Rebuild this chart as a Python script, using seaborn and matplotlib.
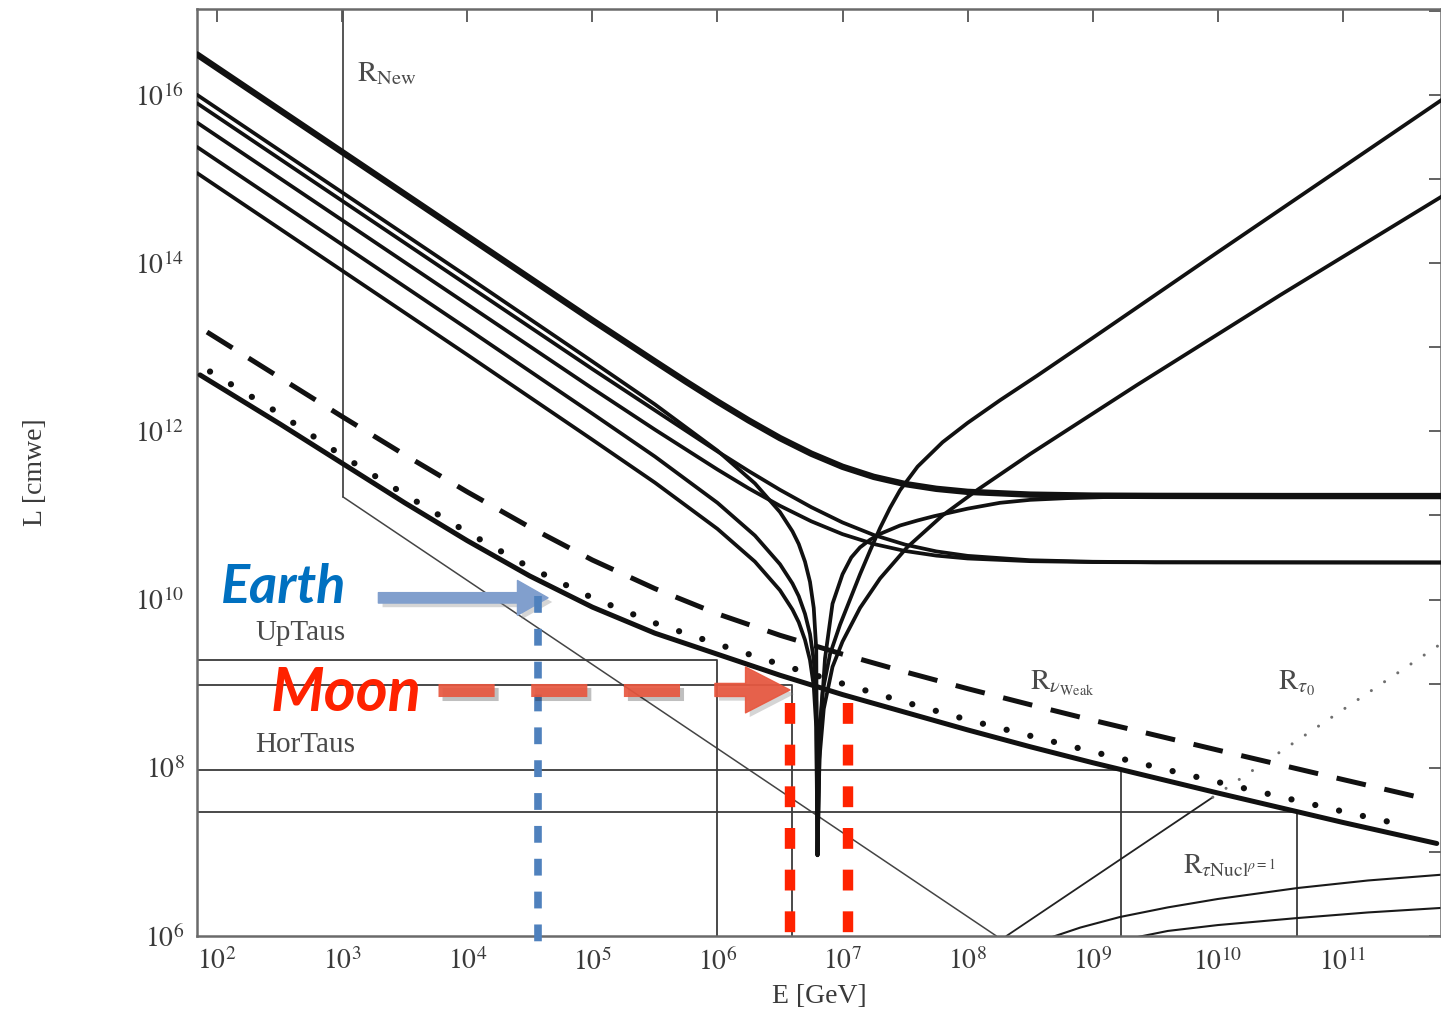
import numpy as np
import pandas as pd
import matplotlib
matplotlib.use("Agg")
import matplotlib.pyplot as plt
import matplotlib.patheffects as pe
from matplotlib.ticker import FixedLocator, FuncFormatter, NullLocator
import seaborn as sns

# ---------------- data: log10(E [GeV]) and log10(L [cmwe]) ----------------
XLIM_LOG = [1.84, 11.784]
YLIM_LOG = [6.0, 17.02]
X_TICK_EXP = [2, 3, 4, 5, 6, 7, 8, 9, 10, 11]
Y_TICK_EXP = [6, 7, 8, 9, 10, 11, 12, 13, 14, 15, 16, 17]

# thick top curve (flattens at ~1.7e11)
T1_LOGE = [1.84, 2.5, 3.0, 3.5, 4.0, 4.5, 5.0, 5.5, 5.75, 6.0, 6.25, 6.5, 6.75, 7.0, 7.25, 7.5,
           7.75, 8.0, 8.5, 9.0, 9.5, 10.5, 11.8]
T1_LOGL = [16.48, 15.82, 15.32, 14.82, 14.32, 13.82, 13.32, 12.831, 12.589, 12.354, 12.129, 11.919,
           11.734, 11.578, 11.458, 11.373, 11.316, 11.28, 11.247, 11.235, 11.232, 11.23, 11.23]

# curve dipping at ~6e6 GeV and rising steeply (upper rising branch)
V1_LOGE = [1.84, 3.0, 4.0, 5.0, 5.5, 6.0, 6.3, 6.5, 6.6, 6.65, 6.7, 6.74, 6.77, 6.79, 6.80,
           6.81, 6.84, 6.9, 6.98, 7.06, 7.14, 7.22, 7.3, 7.38, 7.46, 7.6, 7.8, 8.0, 8.26, 8.555, 9.0, 10.0, 11.8]
V1_LOGL = [16.00, 14.84, 13.84, 12.83, 12.32, 11.77, 11.38, 11.04, 10.81, 10.66, 10.45, 10.21, 9.90, 9.41, 6.96,
           8.3, 8.9, 9.35, 9.7, 10.0, 10.3, 10.58, 10.85, 11.09, 11.3, 11.58, 11.87, 12.1, 12.37, 12.66, 13.11, 14.13, 15.95]

# curve dipping at ~6e6 GeV then approaching the upper plateau from below
X_LOGE = [1.84, 3.0, 4.0, 5.0, 5.5, 6.0, 6.3, 6.5, 6.6, 6.65, 6.7, 6.74, 6.77, 6.79, 6.80,
          6.82, 6.86, 6.92, 7.0, 7.07, 7.14, 7.22, 7.3, 7.46, 7.6, 7.73, 8.0, 8.26, 8.5, 8.79, 9.1, 9.46, 11.8]
X_LOGL = [15.38, 14.22, 13.22, 12.21, 11.70, 11.15, 10.76, 10.42, 10.19, 10.04, 9.83, 9.59, 9.28, 8.79, 6.96,
          8.4, 9.3, 9.95, 10.3, 10.5, 10.62, 10.71, 10.78, 10.88, 10.94, 10.99, 11.08, 11.15, 11.185, 11.205,
          11.218, 11.225, 11.23]

# curve dipping at ~6e6 GeV and rising (lower rising branch)
Y_LOGE = [1.84, 3.0, 4.0, 5.0, 5.5, 6.0, 6.3, 6.5, 6.6, 6.65, 6.7, 6.74, 6.77, 6.79, 6.80,
          6.815, 6.85, 6.92, 7.0, 7.14, 7.3, 7.516, 7.8, 8.075, 8.5, 9.354, 10.5, 11.8]
Y_LOGL = [15.07, 13.91, 12.91, 11.90, 11.39, 10.84, 10.45, 10.11, 9.88, 9.73, 9.52, 9.28, 8.97, 8.48, 6.96,
          8.1, 8.7, 9.2, 9.5, 9.9, 10.25, 10.62, 11.0, 11.30, 11.73, 12.55, 13.62, 14.8]

# two curves flattening at ~2.75e10
P_LOGE = [1.84, 3.0, 4.0, 5.0, 5.5, 6.0, 6.25, 6.5, 6.75, 7.0, 7.25, 7.5, 7.75, 8.0, 8.5, 9.0, 9.5, 11.8]
P2_LOGL = [15.90, 14.74, 13.74, 12.74, 12.25, 11.761, 11.527, 11.304, 11.098, 10.916, 10.767, 10.653,
           10.572, 10.519, 10.467, 10.449, 10.443, 10.44]
P3_LOGL = [15.67, 14.51, 13.51, 12.51, 12.02, 11.546, 11.321, 11.114, 10.93, 10.777, 10.66, 10.577,
           10.522, 10.488, 10.456, 10.445, 10.442, 10.44]

# R_nuWeak (dashed)
WEAK_LOGE = [1.92, 2.5, 3.0, 3.5, 4.0, 4.5, 5.0, 5.5, 6.0, 6.5, 7.0, 7.5, 8.0, 8.5, 9.0, 10.0, 11.0, 11.65]
WEAK_LOGL = [13.18, 12.64, 12.175, 11.72, 11.28, 10.86, 10.47, 10.13, 9.83, 9.575, 9.35, 9.14, 8.94,
             8.75, 8.565, 8.21, 7.86, 7.635]

# dotted curve
DOT_LOGE = [1.944, 2.5, 3.0, 3.5, 4.0, 4.5, 5.0, 5.5, 6.0, 6.5, 7.0, 7.5, 8.0, 8.5, 9.0, 10.0, 11.0, 11.51]
DOT_LOGL = [12.71, 12.21, 11.71, 11.25, 10.80, 10.38, 10.02, 9.72, 9.47, 9.23, 9.00, 8.78, 8.57, 8.38,
            8.19, 7.83, 7.48, 7.31]

# solid thick lower curve
LOW_LOGE = [1.864, 2.5, 3.0, 3.5, 4.0, 4.5, 5.0, 5.5, 6.0, 6.5, 7.0, 7.5, 8.0, 8.5, 9.0, 10.0, 11.0, 11.75]
LOW_LOGL = [12.67, 12.09, 11.62, 11.15, 10.70, 10.28, 9.91, 9.60, 9.35, 9.10, 8.87, 8.66, 8.45, 8.25,
            8.06, 7.70, 7.35, 7.10]

# R_New (vertical then slope -1)
RNEW_LOGE = [3.007, 3.007, 8.23]
RNEW_LOGL = [17.1, 11.22, 6.0]

# R_tau0 (solid part, dotted part)
RT0_SOLID_LOGE = [8.31, 9.96]
RT0_SOLID_LOGL = [6.0, 7.65]
RT0_DOT_LOGE = [9.96, 11.8]
RT0_DOT_LOGL = [7.65, 9.49]

# R_tauNucl rho=1 curves
NUC1_LOGE = [8.6, 8.9, 9.218, 9.6, 10.0, 10.641, 11.2, 11.8]
NUC1_LOGL = [5.95, 6.10, 6.226, 6.34, 6.44, 6.571, 6.66, 6.73]
NUC2_LOGE = [9.35, 9.6, 10.0, 10.641, 11.2, 11.8]
NUC2_LOGL = [5.985, 6.06, 6.13, 6.214, 6.28, 6.335]

# UpTaus / HorTaus step lines: level (log L) and cut energy (log E)
TAU_LEVEL_LOGL = [9.282, 8.985, 7.974, 7.474]
TAU_CUT_LOGE = [6.0, 6.60, 9.23, 10.63]

# overlay annotations
EARTH_LOGE = 4.566
EARTH_ARROW_LOGE = [3.29, 4.646]
EARTH_ARROW_LOGL = 10.02
MOON_LOGE = [6.58, 7.044]
MOON_TOP_LOGL = 8.77
MOON_SHAFT_LOGE = [3.767, 5.86]
MOON_HEAD_LOGE = [5.98, 6.58]
MOON_ARROW_LOGL = 8.925

# ---------------- styling ----------------
sns.set_style("white")
plt.rcParams["font.family"] = ["Liberation Serif", "DejaVu Serif"]
plt.rcParams["mathtext.fontset"] = "stix"

W, H = 1441, 1027
fig = plt.figure(figsize=(W / 100, H / 100), dpi=100)
ax = fig.add_axes([197 / W, 91 / H, (1441 - 197) / W, (1018 - 91) / H])
ax.set_xscale("log")
ax.set_yscale("log")
ax.set_xlim(10 ** XLIM_LOG[0], 10 ** XLIM_LOG[1])
ax.set_ylim(10 ** YLIM_LOG[0], 10 ** YLIM_LOG[1])


def draw(le, ll, **kw):
    df = pd.DataFrame({"E": np.power(10.0, np.asarray(le, float)),
                       "L": np.power(10.0, np.asarray(ll, float))})
    sns.lineplot(data=df, x="E", y="L", ax=ax, sort=False, estimator=None,
                 legend=False, **kw)


BLACK = "#111111"
THIN = "#3a3a3a"

# thin reference lines
draw(RNEW_LOGE[:2], RNEW_LOGL[:2], color="#555555", lw=1.4, zorder=2)
draw(RNEW_LOGE[1:], RNEW_LOGL[1:], color="#444444", lw=1.1, zorder=2)
for lvl, cut in zip(TAU_LEVEL_LOGL, TAU_CUT_LOGE):
    draw([XLIM_LOG[0], cut, cut], [lvl, lvl, YLIM_LOG[0]], color=THIN, lw=1.3, zorder=2)
draw(RT0_SOLID_LOGE, RT0_SOLID_LOGL, color="#222222", lw=1.3, zorder=2)
draw(RT0_DOT_LOGE, RT0_DOT_LOGL, color="#6f6f6f", lw=2.2,
     linestyle=(0, (0.01, 5.2)), dash_capstyle="round", zorder=2)
draw(NUC1_LOGE, NUC1_LOGL, color="#1a1a1a", lw=1.5, zorder=2)
draw(NUC2_LOGE, NUC2_LOGL, color="#1a1a1a", lw=1.5, zorder=2)

# lower family
draw(WEAK_LOGE, WEAK_LOGL, color=BLACK, lw=3.6, linestyle=(0, (6.0, 3.8)), zorder=3)
draw(DOT_LOGE, DOT_LOGL, color=BLACK, lw=4.5, linestyle=(0, (0.01, 3.9)),
     dash_capstyle="round", zorder=3)
draw(LOW_LOGE, LOW_LOGL, color=BLACK, lw=3.6, zorder=3)

# upper family
for le, ll in [(P_LOGE, P2_LOGL), (P_LOGE, P3_LOGL), (X_LOGE, X_LOGL),
               (Y_LOGE, Y_LOGL), (V1_LOGE, V1_LOGL)]:
    draw(le, ll, color=BLACK, lw=2.7, zorder=3)
draw(T1_LOGE, T1_LOGL, color=BLACK, lw=4.6, zorder=3)

# ---------------- axes cosmetics ----------------
for s in ax.spines.values():
    s.set_color("#6a6a6a")
    s.set_linewidth(1.8)
ax.xaxis.set_major_locator(FixedLocator([10.0 ** e for e in X_TICK_EXP]))
ax.yaxis.set_major_locator(FixedLocator([10.0 ** e for e in Y_TICK_EXP]))
ax.xaxis.set_minor_locator(NullLocator())
ax.yaxis.set_minor_locator(NullLocator())
ax.xaxis.set_major_formatter(FuncFormatter(lambda v, p: r"$10^{%d}$" % round(np.log10(v))))
ax.yaxis.set_major_formatter(FuncFormatter(
    lambda v, p: (r"$10^{%d}$" % round(np.log10(v))) if round(np.log10(v)) % 2 == 0 else ""))
ax.tick_params(which="major", direction="in", length=9, width=1.3, colors="#555555",
               labelcolor="#3a3a3a", labelsize=20, top=True, right=True, pad=9)
ax.set_xlabel("E [GeV]", fontsize=20, color="#3a3a3a", labelpad=6)
ax.set_ylabel("L [cmwe]", fontsize=20, color="#3a3a3a")
ax.yaxis.set_label_coords(-0.12, 0.5)

# ---------------- text labels ----------------
tc = "#4a4a4a"
ax.text(10 ** 3.12, 10 ** 16.25, r"$\mathrm{R}_{\mathrm{New}}$", fontsize=21, color=tc, ha="left", va="center")
ax.text(10 ** 2.304, 10 ** 9.60, "UpTaus", fontsize=21, color=tc, ha="left", va="center")
ax.text(10 ** 2.304, 10 ** 8.27, "HorTaus", fontsize=21, color=tc, ha="left", va="center")
ax.text(10 ** 8.5, 10 ** 9.0, r"$\mathrm{R}_{\nu_{\mathrm{Weak}}}$", fontsize=21, color=tc, ha="left", va="center")
ax.text(10 ** 10.48, 10 ** 9.0, r"$\mathrm{R}_{\tau_0}$", fontsize=21, color=tc, ha="left", va="center")
ax.text(10 ** 9.72, 10 ** 6.83, r"$\mathrm{R}_{\tau\mathrm{Nucl}^{\rho=1}}$", fontsize=20, color=tc, ha="left", va="center")

# ---------------- overlay: Earth / Moon ----------------
shadow = [pe.withSimplePatchShadow(offset=(3, -3), shadow_rgbFace="#888888", alpha=0.35)]

ax.text(10 ** 2.536, 10 ** 10.14, "Earth", fontsize=39, family="Lato", weight="bold",
        style="italic", color="#0070C0", ha="center", va="center", zorder=6)
ann = ax.annotate("", xy=(10 ** EARTH_ARROW_LOGE[1], 10 ** EARTH_ARROW_LOGL),
                  xytext=(10 ** EARTH_ARROW_LOGE[0], 10 ** EARTH_ARROW_LOGL),
                  arrowprops=dict(arrowstyle="simple,head_length=2.2,head_width=2.5,tail_width=0.75",
                                  mutation_scale=10, color="#819FCD", shrinkA=0, shrinkB=0),
                  zorder=6)
ann.arrow_patch.set_path_effects(shadow)
draw([EARTH_LOGE, EARTH_LOGE], [10.04, 5.93], color="#4F81BD", lw=5.5,
     linestyle=(0, (2.2, 2.1)), zorder=6, clip_on=False)

ax.text(10 ** 3.03, 10 ** 8.89, "Moon", fontsize=44, family="Lato", weight="bold",
        style="italic", color="#FF2200", ha="center", va="center", zorder=6)
draw(MOON_SHAFT_LOGE, [MOON_ARROW_LOGL, MOON_ARROW_LOGL], color="#E8573F", lw=9.4,
     linestyle=(0, (4.3, 2.8)), zorder=6, alpha=0.92,
     path_effects=[pe.SimpleLineShadow(offset=(3, -3), alpha=0.25), pe.Normal()])
ann2 = ax.annotate("", xy=(10 ** MOON_HEAD_LOGE[1], 10 ** MOON_ARROW_LOGL),
                   xytext=(10 ** MOON_HEAD_LOGE[0], 10 ** MOON_ARROW_LOGL),
                   arrowprops=dict(arrowstyle="simple,head_length=3.2,head_width=3.3,tail_width=0.94",
                                   mutation_scale=10, color="#E8573F", alpha=0.92,
                                   shrinkA=0, shrinkB=0),
                   zorder=6)
ann2.arrow_patch.set_path_effects(shadow)
for me in MOON_LOGE:
    draw([me, me], [MOON_TOP_LOGL, YLIM_LOG[0]], color="#FF2200", lw=7.5,
         linestyle=(0, (2.0, 2.0)), zorder=6)

fig.savefig("out.png", dpi=100, facecolor="white")
